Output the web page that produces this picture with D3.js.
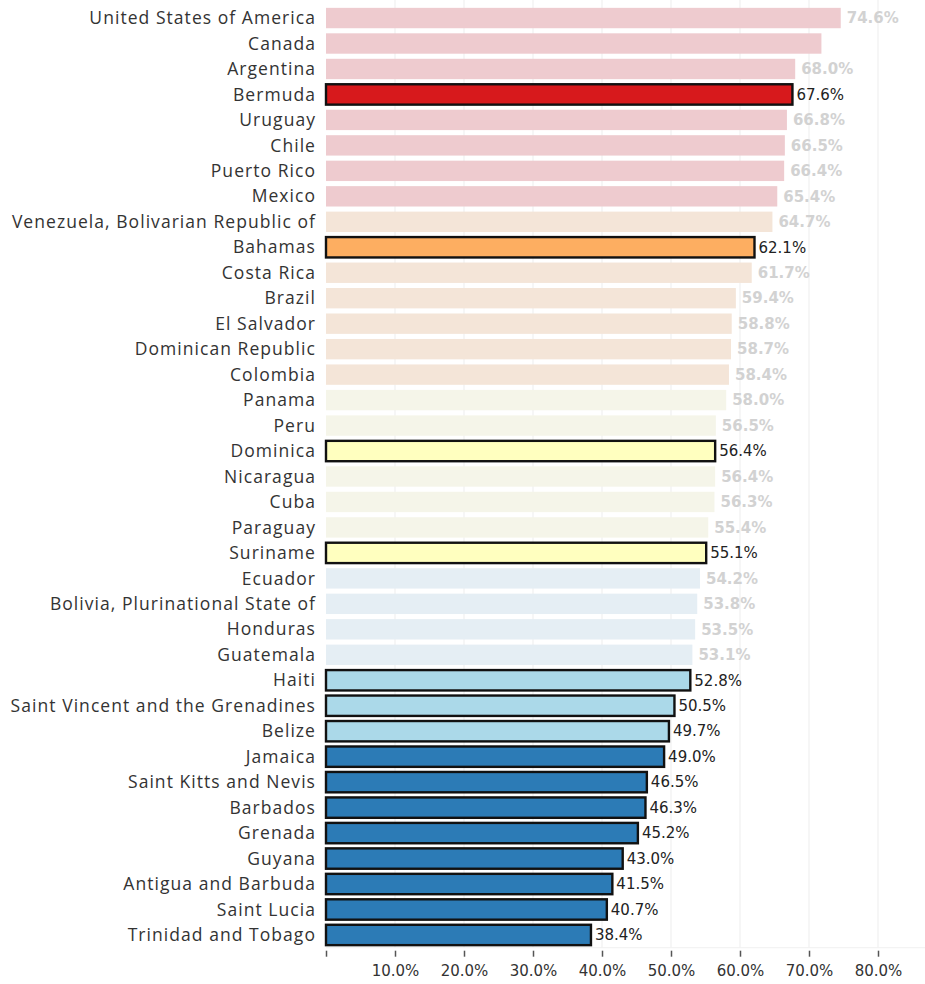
<!DOCTYPE html>
<html>
<head>
<meta charset="utf-8">
<script src="https://cdn.jsdelivr.net/npm/d3@7"></script>
<style>
  html, body { margin: 0; padding: 0; background: #fff; }
  svg { display: block; }
</style>
</head>
<body>
<svg id="chart" width="925" height="984"></svg>
<script>
// Share of population per country, grouped into five colour classes
const countries = [
  "United States of America", "Canada", "Argentina", "Bermuda", "Uruguay", "Chile",
  "Puerto Rico", "Mexico", "Venezuela, Bolivarian Republic of", "Bahamas", "Costa Rica",
  "Brazil", "El Salvador", "Dominican Republic", "Colombia", "Panama", "Peru", "Dominica",
  "Nicaragua", "Cuba", "Paraguay", "Suriname", "Ecuador", "Bolivia, Plurinational State of",
  "Honduras", "Guatemala", "Haiti", "Saint Vincent and the Grenadines", "Belize", "Jamaica",
  "Saint Kitts and Nevis", "Barbados", "Grenada", "Guyana", "Antigua and Barbuda",
  "Saint Lucia", "Trinidad and Tobago"
];
const values = [
  74.6, 71.8, 68.0, 67.6, 66.8, 66.5, 66.4, 65.4, 64.7, 62.1, 61.7, 59.4, 58.8, 58.7, 58.4,
  58.0, 56.5, 56.4, 56.4, 56.3, 55.4, 55.1, 54.2, 53.8, 53.5, 53.1, 52.8, 50.5, 49.7, 49.0,
  46.5, 46.3, 45.2, 43.0, 41.5, 40.7, 38.4
];
// colour class per country (0 = highest band ... 4 = lowest band)
const classes = [
  0, 0, 0, 0, 0, 0, 0, 0, 1, 1, 1, 1, 1, 1, 1, 2, 2, 2, 2, 2, 2, 2, 3, 3, 3, 3, 3, 3, 3,
  4, 4, 4, 4, 4, 4, 4, 4
];
// 1 = selected (full colour, outlined), 0 = dimmed
const selected = [
  0, 0, 0, 1, 0, 0, 0, 0, 0, 1, 0, 0, 0, 0, 0, 0, 0, 1, 0, 0, 0, 1, 0, 0, 0, 0, 1, 1, 1,
  1, 1, 1, 1, 1, 1, 1, 1
];
// countries whose value label is shown
const showLabel = countries.map(c => c !== "Canada");
const tickValues = [0, 10, 20, 30, 40, 50, 60, 70, 80];

const fullColors = ["#d7191c", "#fdae61", "#ffffbf", "#abd9e9", "#2c7bb6"];
const dimColors  = ["#eecbcf", "#f4e5d8", "#f5f5e9", "#e5eef4", "#d5e5f0"];

const data = countries.map((c, i) => ({
  country: c, value: values[i], cls: classes[i], sel: selected[i] === 1, label: showLabel[i]
}));

const svg = d3.select("#chart");
const plotLeft = 326, plotRight = 925, plotTop = 5.3, plotBottom = 947.7;

const x = d3.scaleLinear().domain([0, 10]).range([plotLeft, plotLeft + 69]);
const y = d3.scaleBand().domain(countries).range([plotTop, plotBottom]).paddingInner(0.2).paddingOuter(0.1);

// vertical gridlines
svg.append("g")
  .selectAll("line")
  .data(tickValues.filter(d => d > 0))
  .join("line")
  .attr("x1", d => x(d)).attr("x2", d => x(d))
  .attr("y1", 0).attr("y2", plotBottom)
  .attr("stroke", "#f0f0f0").attr("stroke-width", 1.2);

// bars
svg.append("g")
  .selectAll("rect")
  .data(data)
  .join("rect")
  .attr("x", x(0))
  .attr("y", d => y(d.country))
  .attr("width", d => x(d.value) - x(0))
  .attr("height", y.bandwidth())
  .attr("fill", d => d.sel ? fullColors[d.cls] : dimColors[d.cls])
  .attr("stroke", d => d.sel ? "#111" : "none")
  .attr("stroke-width", 2.4);

// category labels
svg.append("g")
  .selectAll("text")
  .data(data)
  .join("text")
  .attr("x", 316)
  .attr("y", d => y(d.country) + y.bandwidth() / 2)
  .attr("dy", "0.35em")
  .attr("text-anchor", "end")
  .attr("font-family", "'Open Sans', sans-serif")
  .attr("font-size", 17.5)
  .attr("letter-spacing", 1.05)
  .attr("fill", "#333")
  .text(d => d.country);

// value labels
svg.append("g")
  .selectAll("text")
  .data(data.filter(d => d.label))
  .join("text")
  .attr("x", d => x(d.value) + (d.sel ? 4 : 6))
  .attr("y", d => y(d.country) + y.bandwidth() / 2)
  .attr("dy", "0.35em")
  .attr("font-family", "'DejaVu Sans', sans-serif")
  .attr("font-size", 15)
  .attr("font-weight", d => d.sel ? "normal" : "bold")
  .attr("fill", d => d.sel ? "#222" : "#d2d2d2")
  .text(d => d3.format(".1f")(d.value) + "%");

// baseline
svg.append("line")
  .attr("x1", plotLeft).attr("x2", plotRight)
  .attr("y1", plotBottom).attr("y2", plotBottom)
  .attr("stroke", "#f0f0f0");

// bottom axis
const axis = d3.axisBottom(x)
  .tickValues(tickValues)
  .tickSize(6)
  .tickPadding(9)
  .tickFormat(d => d === 0 ? "" : d3.format(".1f")(d) + "%");

const gx = svg.append("g")
  .attr("transform", `translate(0,${plotBottom + 3})`)
  .call(axis);
gx.select(".domain").remove();
gx.selectAll(".tick line").attr("stroke", "#555").attr("stroke-width", 1.5);
gx.selectAll(".tick text")
  .attr("font-family", "'DejaVu Sans', sans-serif")
  .attr("font-size", 15)
  .attr("fill", "#333");
</script>
</body>
</html>
